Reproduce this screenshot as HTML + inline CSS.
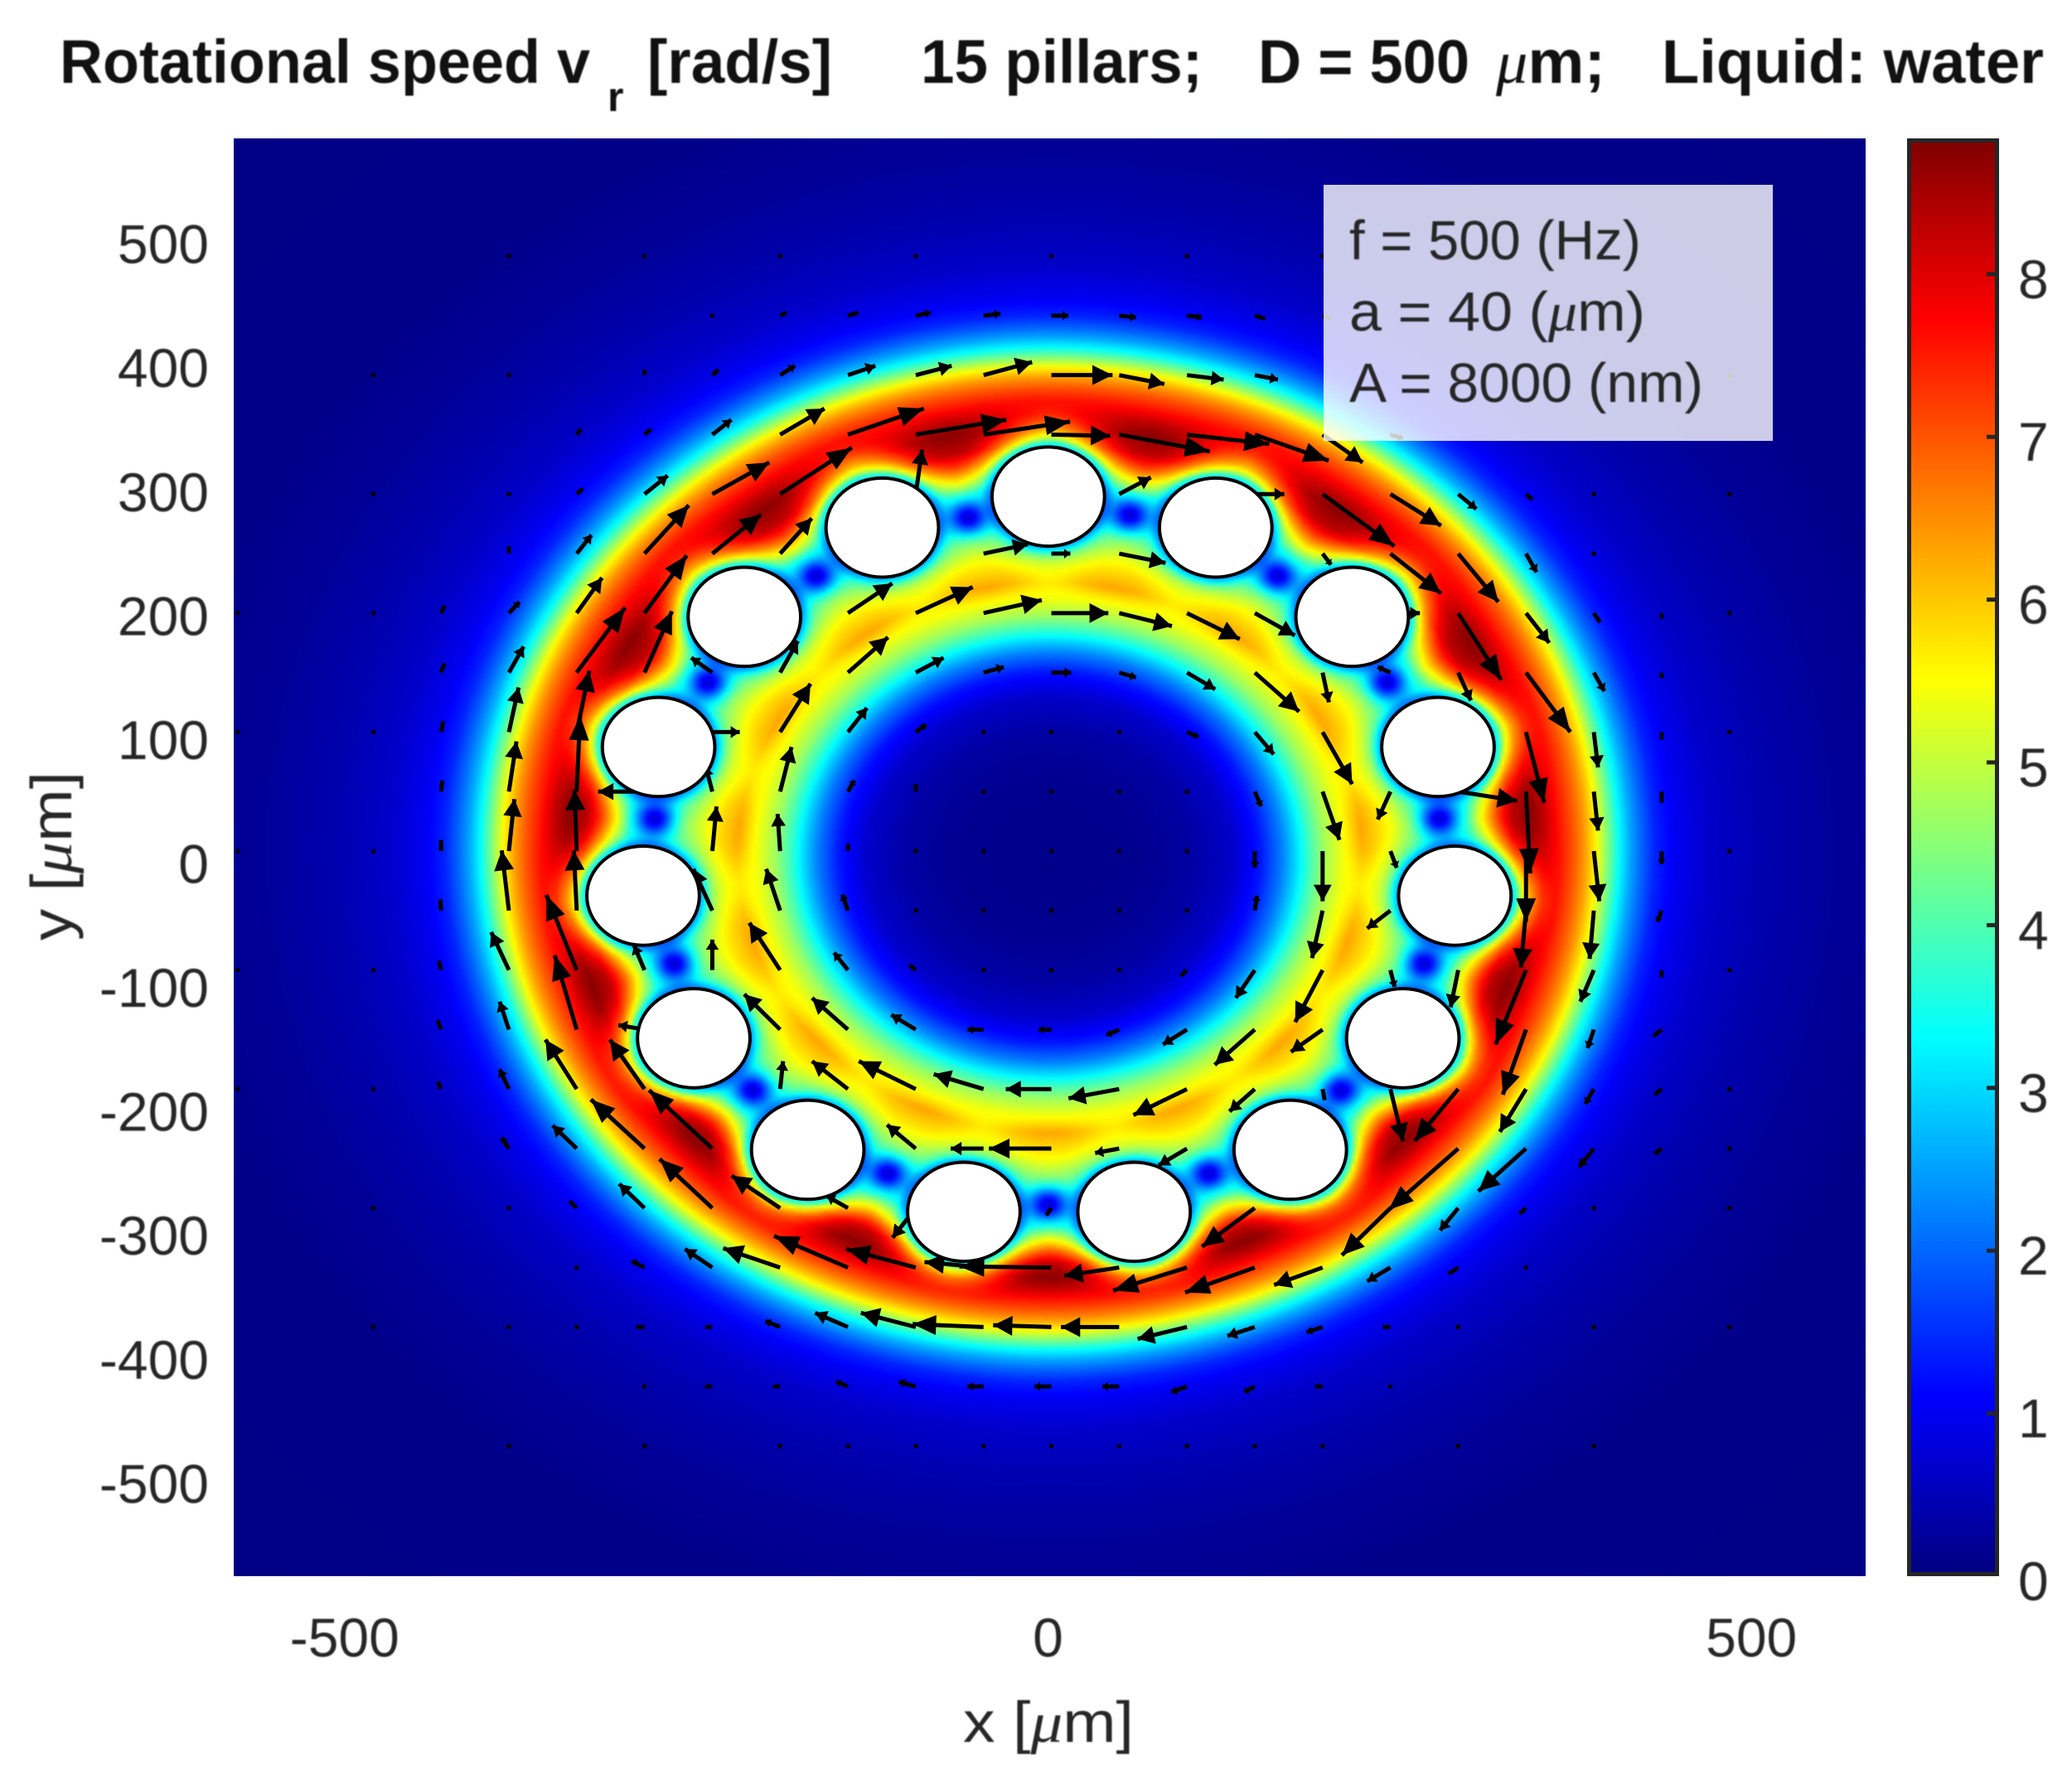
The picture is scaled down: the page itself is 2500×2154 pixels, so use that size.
<!DOCTYPE html>
<html>
<head>
<meta charset="utf-8">
<title>Rotational speed heatmap</title>
<style>
html,body{margin:0;padding:0;background:#fff;}
#stage{position:relative;width:2500px;height:2154px;overflow:hidden;background:#fff;}
#heat{position:absolute;left:282px;top:167px;width:1969px;height:1735px;}
#overlay{position:absolute;left:0;top:0;}
text{font-family:"Liberation Sans",sans-serif;}
.blurred{filter:blur(0.7px);}
.tick{font-size:66px;fill:#262626;}
.serif-mu{font-family:"Liberation Serif",serif;font-style:italic;}
</style>
</head>
<body>
<div id="stage">
<canvas id="heat" width="492" height="434"></canvas>
<svg id="overlay" width="2500" height="2154" viewBox="0 0 2500 2154" xmlns="http://www.w3.org/2000/svg">
  <defs>
    <linearGradient id="jetGrad" x1="0" y1="1" x2="0" y2="0">
      <stop offset="0" stop-color="#000080"/>
      <stop offset="0.125" stop-color="#0000ff"/>
      <stop offset="0.375" stop-color="#00ffff"/>
      <stop offset="0.625" stop-color="#ffff00"/>
      <stop offset="0.875" stop-color="#ff0000"/>
      <stop offset="1" stop-color="#800000"/>
    </linearGradient>
  </defs>
  <g id="arrows"></g>
  <g id="pillars"></g>
  <rect x="1597" y="223" width="542" height="309" fill="#fff" fill-opacity="0.8"/>
  <g class="blurred">
    <text x="1628" y="313" font-size="67" fill="#262626">f = 500 (Hz)</text>
    <text x="1628" y="399" font-size="67" fill="#262626" textLength="357" lengthAdjust="spacingAndGlyphs">a = 40 (<tspan class="serif-mu">μ</tspan>m)</text>
    <text x="1628" y="485" font-size="67" fill="#262626" textLength="427" lengthAdjust="spacingAndGlyphs">A = 8000 (nm)</text>
  </g>
  <g class="blurred" font-weight="bold" font-size="74" fill="#111">
    <text x="72" y="100" textLength="640" lengthAdjust="spacingAndGlyphs">Rotational speed v</text>
    <text x="733" y="134" font-size="50">r</text>
    <text x="781" y="100" textLength="223" lengthAdjust="spacingAndGlyphs">[rad/s]</text>
    <text x="1111" y="100" textLength="340" lengthAdjust="spacingAndGlyphs">15 pillars;</text>
    <text x="1518" y="100" textLength="255" lengthAdjust="spacingAndGlyphs">D = 500</text>
    <text x="1805" y="100" textLength="132" lengthAdjust="spacingAndGlyphs"><tspan class="serif-mu" font-weight="normal">μ</tspan>m;</text>
    <text x="2005" y="100" textLength="461" lengthAdjust="spacingAndGlyphs">Liquid: water</text>
  </g>
  <rect x="2303.5" y="169.5" width="106" height="1730" fill="url(#jetGrad)" stroke="#262626" stroke-width="5"/>
  <g id="cbTicks"></g>
  <g id="xTicks" class="blurred"></g>
  <g id="yTicks" class="blurred"></g>
  <text class="blurred" x="1162" y="2102" font-size="70" fill="#262626" textLength="206" lengthAdjust="spacingAndGlyphs">x [<tspan class="serif-mu">μ</tspan>m]</text>
  <text class="blurred" x="0" y="0" font-size="70" fill="#262626" textLength="204" lengthAdjust="spacingAndGlyphs" transform="translate(86,1135) rotate(-90)">y [<tspan class="serif-mu">μ</tspan>m]</text>
</svg>
</div>
<script>
// ---- Axis ticks ----
const xTickValues = [-500, 0, 500];
const yTickValues = [500, 400, 300, 200, 100, 0, -100, -200, -300, -400, -500];
const cbTickValues = [0, 1, 2, 3, 4, 5, 6, 7, 8];
const xLimits = [-580, 580];
const yLimits = [-580, 580];
const colorMax = 8.83;

// ---- Pillar centres (um) ----
const pillarX = [-1, 118, 215, 276, 288, 251, 171, 60, -61, -172, -253, -289, -278, -217, -119];
const pillarY = [291, 266, 194, 89, -31, -146, -236, -286, -286, -236, -146, -31, 89, 194, 266];
const pillarRadius = 40;

// ---- Vortex minima between pillars (um) ----
const vortexX = [-58, 57, 162, 240, 277, 266, 207, 113, -1, -115, -211, -267, -281, -243, -166];
const vortexY = [274, 276, 227, 141, 31, -86, -188, -255, -280, -255, -188, -86, 31, 141, 227];

// ---- Radial speed profiles (rad/s vs radius in um) ----
const profileRadius = [0, 60, 100, 130, 150, 165, 175, 185, 195, 208, 222, 238, 252, 270, 283, 299, 311, 320, 330, 343, 352, 362, 372, 380, 388, 396, 404, 412, 420, 430, 445, 470, 510, 560, 620, 800];
const gapProfile = [0.1, 0.13, 0.3, 0.65, 1.3, 2.2, 3.0, 3.9, 4.7, 5.4, 6.3, 5.7, 5.1, 4.7, 4.5, 4.6, 6.0, 7.2, 8.3, 8.75, 8.3, 7.6, 7.0, 6.4, 5.6, 4.5, 3.4, 2.6, 2.0, 1.4, 0.98, 0.64, 0.4, 0.22, 0.1, 0.05];
const pillarProfile = [0.1, 0.13, 0.3, 0.65, 1.3, 2.2, 3.0, 3.9, 4.7, 5.4, 5.7, 5.7, 5.6, 5.5, 5.4, 5.4, 5.5, 5.7, 6.3, 7.0, 7.5, 7.6, 7.0, 6.4, 5.6, 4.5, 3.4, 2.6, 2.0, 1.4, 0.98, 0.64, 0.4, 0.22, 0.1, 0.05];
const surfaceDistance = [0, 3, 8, 14, 22, 30];
const surfaceFactor = [0.45, 0.55, 0.78, 0.9, 0.97, 1];

// ---- Quiver samples by grid row: triples of column, u, v ----
const rowP9 = [-5,5,5, -4,15,8, -3,25,8, -2,35,8, -1,40,5, 0,40,0, 1,40,-5, 2,35,-5, 3,25,-8, 4,20,-8];
const rowP8 = [-6,0,15, -5,15,15, -4,35,25, -3,65,25, -2,85,25, -1,115,35, 0,145,0, 1,107,-24, 2,87,-12, 3,55,-12];
const rowP7 = [-7,10,15, -6,15,15, -5,45,40, -4,105,70, -3,180,70, -2,215,40, -1,205,35, 0,140,-3, 1,215,-45, 2,195,-25, 3,175,-70, 4,95,-75, 5,30,-10];
const rowP6 = [-8,0,3, -7,15,15, -6,55,50, -5,135,85, -4,170,125, -2,15,120, 1,75,45, 3,70,0, 4,170,-140, 5,120,-85, 6,43,-40, 7,15,-15];
const rowP5 = [-8,0,20, -7,35,50, -6,105,130, -5,115,105, -4,75,95, -1,105,25, 0,45,0, 1,110,-25, 4,20,-30, 5,120,-107, 6,95,-130, 7,25,-50, 8,2,0];
const rowP4 = [-9,8,20, -8,25,30, -7,60,95, -6,100,155, -3,105,80, -2,135,70, -1,138,35, 0,135,0, 1,125,-35, 2,125,-70, 3,95,-60, 5,70,0, 6,102,-180, 7,55,-80, 8,15,-25, 9,0,-15];
const rowP3 = [-9,8,25, -8,35,70, -7,115,175, -6,65,165, -5,-50,40, -4,42,85, -3,95,95, -2,66,40, -1,48,15, 0,47,0, 1,40,-13, 2,67,-45, 3,105,-105, 4,15,-80, 5,-30,15, 6,30,-75, 7,105,-160, 8,25,-50, 9,0,-15];
const rowP2 = [-9,5,30, -8,23,120, -7,30,165, -5,65,0, -4,72,130, -3,45,65, -2,25,20, -1,0,2, 0,0,2, 2,27,-13, 3,45,-60, 4,70,-140, 7,43,-190, 8,10,-95, 9,0,-20];
const rowP1 = [-9,3,30, -8,18,135, -7,8,205, -6,-110,0, -5,-15,65, -4,27,120, -3,15,30, -2,0,20, 2,0,2, 3,15,-40, 4,40,-130, 5,-30,-75, 6,140,-25, 7,10,-220, 8,10,-105, 9,0,-30];
const rowZ0 = [-9,0,30, -8,13,140, -7,-5,165, -5,10,120, -4,-6,100, -3,0,20, -2,0,3, -1,0,3, 2,0,3, 3,0,-45, 4,0,-135, 5,15,-45, 7,0,-190, 8,13,-135, 9,0,-35];
const rowM1 = [-9,-2,30, -8,-17,162, -7,-7,162, -5,-45,112, -4,-33,112, -3,-13,43, -2,0,3, 2,3,3, 3,5,40, 4,-25,-128, 5,-55,-48, 7,-12,-153, 8,-10,-130, 9,-10,-30];
const rowM2 = [-9,-5,25, -8,-42,102, -7,-72,202, -6,-25,67, -5,0,82, -4,-73,127, -3,-33,47, -2,-15,14, -1,-10,0, 2,-15,-16, 3,-45,-75, 4,-65,-140, 5,10,-45, 6,-18,-100, 7,-72,-200, 8,-32,-85, 9,0,-20];
const rowM3 = [-9,-8,25, -8,-22,75, -7,-52,200, -6,-62,12, -4,-85,95, -3,-85,85, -2,-58,40, -1,-38,0, 0,-30,0, 1,-30,-15, 2,-57,-40, 3,-95,-95, 4,-75,-60, 7,-55,-175, 8,-15,-50, 9,-20,-18];
const rowM4 = [-9,-8,20, -8,-22,53, -7,-74,133, -6,-82,133, -4,7,75, -3,-85,75, -2,-135,75, -1,-118,40, 0,-108,0, 1,-120,-25, 2,-127,-70, 3,-60,-60, 4,5,-30, 5,30,-140, 6,-103,-140, 7,-62,-115, 8,-20,-40, 9,-17,-15];
const rowM5 = [-8,-17,30, -7,-57,62, -6,-127,132, -5,-150,157, -2,-68,64, -1,-78,0, 0,-148,0, 1,-57,-12, 2,-67,-45, 6,-165,-165, 7,-113,-115, 8,-35,-50, 9,-17,-15, 10,0,3];
const rowM6 = [-8,0,3, -7,-17,19, -6,-60,65, -5,-125,132, -4,-115,87, -3,-50,32, -2,-55,-80, 0,-12,-20, 3,-125,-104, 5,-115,-127, 6,-43,-60, 7,-15,-15];
const rowM7 = [-7,0,3, -6,-30,18, -5,-65,50, -4,-135,52, -3,-175,85, -2,-165,50, -1,-140,15, 0,-218,3, 1,-130,-22, 2,-175,-62, 3,-165,-67, 4,-115,-47, 5,-55,-37, 6,-23,-17, 7,0,3];
const rowM8 = [-8,0,3, -7,0,3, -6,-20,0, -5,-17,0, -4,-35,16, -3,-78,38, -2,-130,38, -1,-168,8, 0,-138,5, 1,-138,0, 2,-117,-32, 3,-65,-24, 4,-38,-14, 5,-18,0, 6,0,3];
const rowM9 = [-6,-5,0, -5,-17,0, -4,-17,0, -3,-28,13, -2,-40,13, -1,-38,0, 0,-40,0, 1,-40,0, 2,-37,-15, 3,-25,-15, 4,-18,0, 5,-5,0];
const rowM10 = [-3,-8,0, -2,-8,0, -1,-8,0, 0,-8,0, 1,-8,0, 2,-8,0, 3,-8,0];
const quiverRowIndex = [9, 8, 7, 6, 5, 4, 3, 2, 1, 0, -1, -2, -3, -4, -5, -6, -7, -8, -9, -10];
const quiverRowData = [rowP9, rowP8, rowP7, rowP6, rowP5, rowP4, rowP3, rowP2, rowP1, rowZ0, rowM1, rowM2, rowM3, rowM4, rowM5, rowM6, rowM7, rowM8, rowM9, rowM10];

// ---- Axis functions ----
const PLOT = {left: 282, right: 2251, top: 167, bottom: 1902};
function xScale(v) { return PLOT.left + (v - xLimits[0]) / (xLimits[1] - xLimits[0]) * (PLOT.right - PLOT.left); }
function yScale(v) { return PLOT.bottom - (v - yLimits[0]) / (yLimits[1] - yLimits[0]) * (PLOT.bottom - PLOT.top); }
function gridX(j) { return 1.2 + 48.2 * j; }
function gridY(k) { return 5 + 48 * k; }
const SVGNS = 'http://www.w3.org/2000/svg';
function make(tag) { return document.createElementNS(SVGNS, tag); }

function lerpTable(xs, ys, x) {
  if (x <= xs[0]) return ys[0];
  const n = xs.length;
  if (x >= xs[n - 1]) return ys[n - 1];
  let lo = 0, hi = n - 1;
  while (hi - lo > 1) { const m = (lo + hi) >> 1; if (xs[m] <= x) lo = m; else hi = m; }
  const t = (x - xs[lo]) / (xs[hi] - xs[lo]);
  return ys[lo] + (ys[hi] - ys[lo]) * t;
}
function jet(t) {
  t = Math.max(0, Math.min(1, t));
  const r = Math.max(0, Math.min(1, 1.5 - Math.abs(4 * t - 3)));
  const g = Math.max(0, Math.min(1, 1.5 - Math.abs(4 * t - 2)));
  const b = Math.max(0, Math.min(1, 1.5 - Math.abs(4 * t - 1)));
  return [r * 255, g * 255, b * 255];
}
function smooth(x, a, b) { const t = Math.max(0, Math.min(1, (x - a) / (b - a))); return t * t * (3 - 2 * t); }

function field(x, y) {
  const r = Math.hypot(x, y) + 1e-6;
  const rEff = r - 7 * (y / r) * smooth(r, 300, 380);
  const theta = Math.atan2(x, y);
  const g0 = (1 - Math.cos(15 * theta)) / 2;
  const g = Math.pow(g0, 0.8 - 0.1 * smooth(r, 290, 320));
  let v = g * lerpTable(profileRadius, gapProfile, rEff) + (1 - g) * lerpTable(profileRadius, pillarProfile, rEff);
  if (r > 200 && r < 380) {
    let dMin = 1e9;
    for (let i = 0; i < pillarX.length; i++) {
      const d = Math.hypot(x - pillarX[i], y - pillarY[i]) - pillarRadius;
      if (d < dMin) dMin = d;
    }
    v *= lerpTable(surfaceDistance, surfaceFactor, Math.max(0, dMin));
    for (let i = 0; i < vortexX.length; i++) {
      const dx = x - vortexX[i], dy = y - vortexY[i];
      const q = (dx * dx + dy * dy) / 220;
      if (q < 9) v *= 1 - 0.82 * Math.exp(-q);
    }
  }
  return v;
}

(function drawHeat() {
  const cv = document.getElementById('heat');
  const ctx = cv.getContext('2d');
  const W = cv.width, H = cv.height;
  const img = ctx.createImageData(W, H);
  for (let py = 0; py < H; py++) {
    const yv = yLimits[1] - (py + 0.5) / H * (yLimits[1] - yLimits[0]);
    for (let px = 0; px < W; px++) {
      const xv = xLimits[0] + (px + 0.5) / W * (xLimits[1] - xLimits[0]);
      const c = jet(field(xv, yv) / colorMax);
      const o = (py * W + px) * 4;
      img.data[o] = c[0]; img.data[o + 1] = c[1]; img.data[o + 2] = c[2]; img.data[o + 3] = 255;
    }
  }
  ctx.putImageData(img, 0, 0);
})();

(function drawQuiver() {
  const group = document.getElementById('arrows');
  const quiverScale = 0.3;
  const listed = {};
  function addArrow(j, k, u, v) {
    const x0 = xScale(gridX(j)), y0 = yScale(gridY(k));
    const x1 = xScale(gridX(j) + u * quiverScale), y1 = yScale(gridY(k) + v * quiverScale);
    const dx = x1 - x0, dy = y1 - y0;
    const L = Math.hypot(dx, dy);
    const g = make('g');
    
    
    if (L < 6) {
      const dot = make('rect');
      dot.setAttribute('x', x0 - 2.5);
      dot.setAttribute('y', y0 - 2.5);
      dot.setAttribute('width', 5);
      dot.setAttribute('height', 5);
      dot.setAttribute('fill', '#000');
      g.appendChild(dot);
    } else {
      const line = make('line');
      line.setAttribute('x1', x0);
      line.setAttribute('y1', y0);
      line.setAttribute('x2', x1);
      line.setAttribute('y2', y1);
      line.setAttribute('stroke', '#000');
      line.setAttribute('stroke-width', 5);
      g.appendChild(line);
      if (L > 14) {
        const hl = Math.min(30, L * 0.33), hw = Math.min(12, L * 0.13 + 3);
        const ux = dx / L, uy = dy / L;
        const bx = x1 - ux * hl, by = y1 - uy * hl;
        const head = make('polygon');
        head.setAttribute('points', [x1, y1, bx - uy * hw, by + ux * hw, bx + uy * hw, by - ux * hw].join(' '));
        head.setAttribute('fill', '#000');
        g.appendChild(head);
      }
    }
    group.appendChild(g);
  }
  quiverRowIndex.forEach(function (k, idx) {
    const row = quiverRowData[idx];
    for (let i = 0; i < row.length; i += 3) {
      listed[row[i] + ',' + k] = 1;
      addArrow(row[i], k, row[i + 1], row[i + 2]);
    }
  });
  for (let k = -11; k <= 11; k++) {
    for (let j = -12; j <= 11; j++) {
      if (listed[j + ',' + k]) continue;
      const r = Math.hypot(gridX(j), gridY(k));
      const far = r > 440 && r < 640 && j % 2 === 0 && k % 2 === 0;
      const core = r < 130;
      if (far || core) addArrow(j, k, 0, 0);
    }
  }
})();

(function drawPillars() {
  const group = document.getElementById('pillars');
  for (let i = 0; i < pillarX.length; i++) {
    const e = make('ellipse');
    e.setAttribute('cx', xScale(pillarX[i]));
    e.setAttribute('cy', yScale(pillarY[i]));
    e.setAttribute('rx', pillarRadius * (PLOT.right - PLOT.left) / 1160);
    e.setAttribute('ry', pillarRadius * (PLOT.bottom - PLOT.top) / 1160);
    e.setAttribute('fill', '#fff');
    e.setAttribute('stroke', '#000');
    e.setAttribute('stroke-width', 4);
    
    
    group.appendChild(e);
  }
})();

(function drawTicks() {
  const xg = document.getElementById('xTicks');
  xTickValues.forEach(function (v) {
    const t = make('text');
    t.setAttribute('x', xScale(v) - 2);
    t.setAttribute('y', 1999);
    t.setAttribute('text-anchor', 'middle');
    t.setAttribute('class', 'tick');
    
    
    t.textContent = String(v);
    xg.appendChild(t);
  });
  const yg = document.getElementById('yTicks');
  yTickValues.forEach(function (v) {
    const t = make('text');
    t.setAttribute('x', 252);
    t.setAttribute('y', yScale(v) + 31);
    t.setAttribute('text-anchor', 'end');
    t.setAttribute('class', 'tick');
    
    
    t.textContent = String(v);
    yg.appendChild(t);
  });
  const cg = document.getElementById('cbTicks');
  cbTickValues.forEach(function (v) {
    const y = 1902 - 196.4 * v;
    if (v > 0) {
      const m = make('line');
      m.setAttribute('x1', 2397);
      m.setAttribute('x2', 2408);
      m.setAttribute('y1', y);
      m.setAttribute('y2', y);
      m.setAttribute('stroke', '#262626');
      m.setAttribute('stroke-width', 5);
      
      
      cg.appendChild(m);
    }
    const t = make('text');
    t.setAttribute('x', 2435);
    t.setAttribute('y', y + 29);
    t.setAttribute('class', 'tick blurred');
    
    
    t.textContent = String(v);
    cg.appendChild(t);
  });
})();
</script>
</body>
</html>
